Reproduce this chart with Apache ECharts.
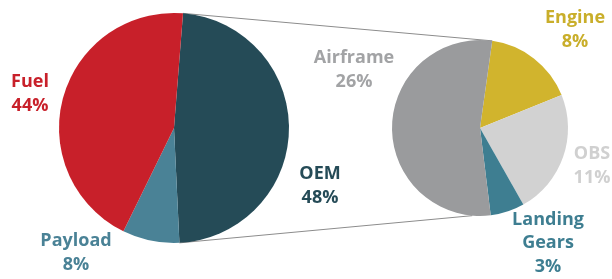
<!DOCTYPE html>
<html>
<head>
<meta charset="utf-8">
<script src="https://cdn.jsdelivr.net/npm/echarts@6/dist/echarts.min.js"></script>
<style>
  html, body { margin: 0; padding: 0; background: #fff; }
  #chart { width: 612px; height: 279px; }
</style>
</head>
<body>
<div id="chart"></div>
<script>
// cost split, left pie (share of total)
var mainNames = ['OEM', 'Payload', 'Fuel'];
var mainValues = [48, 8, 44];
var mainColors = ['#254b57', '#4a8296', '#c8202a'];
var mainLabelColors = ['#254b57', '#4a8296', '#c8202a'];

// OEM breakdown, right pie (also share of total)
var subNames = ['Engine', 'OBS', 'Landing Gears', 'Airframe'];
var subValues = [8, 11, 3, 26];
var subColors = ['#d1b42d', '#d2d2d2', '#3e7e91', '#9a9b9d'];
var subLabelColors = ['#c9ae2a', '#d0d0d0', '#3e7e91', '#a2a3a5'];

// geometry
var leftC = [174, 128], leftR = 115, leftStart = 85.5;
var rightC = [480, 128], rightR = 88, rightStart = 82;

// label anchors (centre of each text block)
var labelPos = [
    [[320, 186], [76, 253], [30, 94]],
    [[575, 30], [592, 166], [548, 243], [354, 70]]
];

var chart = echarts.init(document.getElementById('chart'));

var buildData = function (names, values, colors, labelColors) {
    return names.map(function (n, i) {
        return {
            name: n,
            value: values[i],
            itemStyle: {color: colors[i]},
            label: {color: labelColors[i]}
        };
    });
};

var pt = function (c, r, deg) {
    var a = deg * Math.PI / 180;
    return [c[0] + r * Math.cos(a), c[1] - r * Math.sin(a)];
};

// connector lines: from OEM slice edges to the breakdown pie
var sum = function (arr) { return arr.reduce(function (a, b) { return a + b; }, 0); };
var oemSpan = mainValues[0] / sum(mainValues) * 360;
var p1 = pt(leftC, leftR, leftStart);
var p2 = pt(leftC, leftR, leftStart - oemSpan);
var q1 = pt(rightC, rightR, rightStart);
var q2 = pt(rightC, rightR, -95);

var labelCommon = {
    show: true,
    fontFamily: '"Open Sans", sans-serif',
    fontWeight: 'bold',
    fontSize: 18,
    lineHeight: 23.5,
    align: 'center',
    formatter: function (p) {
        return p.name.replace(' ', '\n') + '\n' + p.value + '%';
    }
};

var layoutFn = function (params) {
    var pos = labelPos[params.seriesIndex][params.dataIndex];
    return {x: pos[0], y: pos[1], align: 'center', verticalAlign: 'middle'};
};

var option = {
    animation: false,
    graphic: [
        {type: 'line', z: -1, shape: {x1: p1[0], y1: p1[1], x2: q1[0], y2: q1[1]},
            style: {stroke: '#8c8c8c', lineWidth: 1}},
        {type: 'line', z: -1, shape: {x1: p2[0], y1: p2[1], x2: q2[0], y2: q2[1]},
            style: {stroke: '#8c8c8c', lineWidth: 1}}
    ],
    series: [
        {
            type: 'pie',
            center: leftC,
            radius: leftR,
            startAngle: leftStart,
            clockwise: true,
            avoidLabelOverlap: false,
            silent: true,
            label: labelCommon,
            labelLine: {show: false},
            labelLayout: layoutFn,
            data: buildData(mainNames, mainValues, mainColors, mainLabelColors)
        },
        {
            type: 'pie',
            center: rightC,
            radius: rightR,
            startAngle: rightStart,
            clockwise: true,
            avoidLabelOverlap: false,
            silent: true,
            label: labelCommon,
            labelLine: {show: false},
            labelLayout: layoutFn,
            data: buildData(subNames, subValues, subColors, subLabelColors)
        }
    ]
};
chart.setOption(option);
</script>
</body>
</html>
